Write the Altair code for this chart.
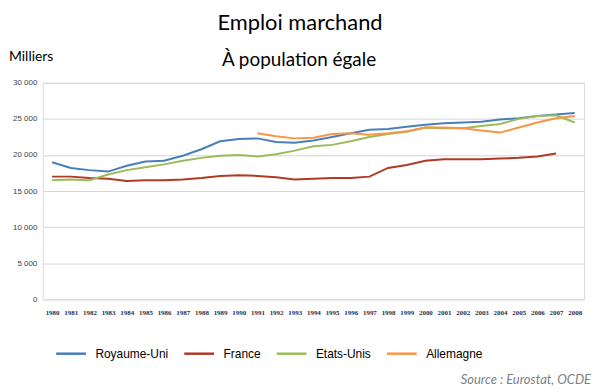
import altair as alt
import pandas as pd

years = list(range(1980, 2009))
series_names = ["Royaume-Uni", "France", "Etats-Unis", "Allemagne"]
colors = ["#4a7ebb", "#b03a26", "#9bbb59", "#f79646"]

royaume_uni = [19.0, 18.2, 17.9, 17.7, 18.5, 19.1, 19.2, 19.9, 20.8, 21.9, 22.2, 22.3, 21.8, 21.7,
               22.0, 22.5, 23.0, 23.5, 23.6, 23.9, 24.2, 24.4, 24.5, 24.6, 24.9, 25.1, 25.4, 25.6, 25.8]
france = [17.0, 17.0, 16.8, 16.7, 16.4, 16.5, 16.5, 16.6, 16.8, 17.1, 17.2, 17.1, 16.9, 16.6,
          16.7, 16.8, 16.8, 17.0, 18.2, 18.6, 19.2, 19.4, 19.4, 19.4, 19.5, 19.6, 19.8, 20.2, None]
etats_unis = [16.5, 16.6, 16.5, 17.3, 17.9, 18.3, 18.7, 19.2, 19.6, 19.9, 20.0, 19.8, 20.1, 20.6,
              21.2, 21.4, 21.9, 22.5, 22.9, 23.2, 23.8, 23.7, 23.7, 24.0, 24.3, 25.0, 25.4, 25.5, 24.5]
allemagne = [None] * 11 + [23.0, 22.6, 22.3, 22.4, 22.9, 23.0, 22.8, 23.0, 23.3, 23.8, 23.8, 23.7,
                           23.4, 23.1, 23.8, 24.5, 25.1, 25.4]

rows = []
for name, vals in zip(series_names, [royaume_uni, france, etats_unis, allemagne]):
    for y, v in zip(years, vals):
        if v is not None:
            rows.append({"annee": str(y), "pays": name, "valeur": v * 1000})
df = pd.DataFrame(rows)

W, H = 545, 218

lines = alt.Chart(df).mark_line(strokeWidth=2).encode(
    x=alt.X("annee:O", scale=alt.Scale(type="point", padding=0.5),
            axis=alt.Axis(title=None, labelAngle=0, labelFont="Liberation Serif",
                          labelFontSize=7, labelFontWeight="bold", labelColor="#1f2d4d",
                          ticks=False, domain=False, labelPadding=9, grid=False)),
    y=alt.Y("valeur:Q", scale=alt.Scale(domain=[0, 30000]),
            axis=alt.Axis(title=None, values=[0, 5000, 10000, 15000, 20000, 25000, 30000],
                          labelExpr="replace(format(datum.value, ',d'), ',', ' ')",
                          labelFont="Liberation Sans", labelFontSize=8, labelColor="#404040",
                          ticks=False, domain=False, labelPadding=6,
                          gridColor="#d4d4d4", gridWidth=1)),
    color=alt.Color("pays:N", scale=alt.Scale(domain=series_names, range=colors),
                    legend=alt.Legend(title=None, orient="none", legendX=12, legendY=256,
                                      direction="horizontal", symbolType="stroke",
                                      symbolSize=900, symbolStrokeWidth=2.5,
                                      labelFont="Arial", labelFontSize=12,
                                      labelColor="#000000", labelOffset=8,
                                      columnPadding=10)),
    order=alt.Order("annee:O"),
)

def txt(text, x, y, size, font="Lato", align="center", color="#000000", style="normal",
        weight="normal", baseline="middle"):
    return alt.Chart(pd.DataFrame({"t": [text]})).mark_text(
        align=align, baseline=baseline, fontSize=size, font=font, color=color,
        fontStyle=style, fontWeight=weight
    ).encode(text="t:N", x=alt.value(x), y=alt.value(y))

title = txt("Emploi marchand", 259, -53, 22, baseline="alphabetic")
subtitle = txt("À population égale", 258, -23, 19)
unit = txt("Milliers", -34, -26, 14, align="left")
source = txt("Source : Eurostat, OCDE", 552, 299, 13, align="right", color="#7f7f7f", style="italic")

chart = alt.layer(lines, title, subtitle, unit, source).properties(
    width=W, height=H,
    autosize=alt.AutoSizeParams(type="none"),
    padding={"left": 35, "top": 74, "right": 8, "bottom": 92},
).configure_view(stroke=None).configure(background="white")

chart.save("out.html", embed_options={"renderer": "svg", "actions": False})
